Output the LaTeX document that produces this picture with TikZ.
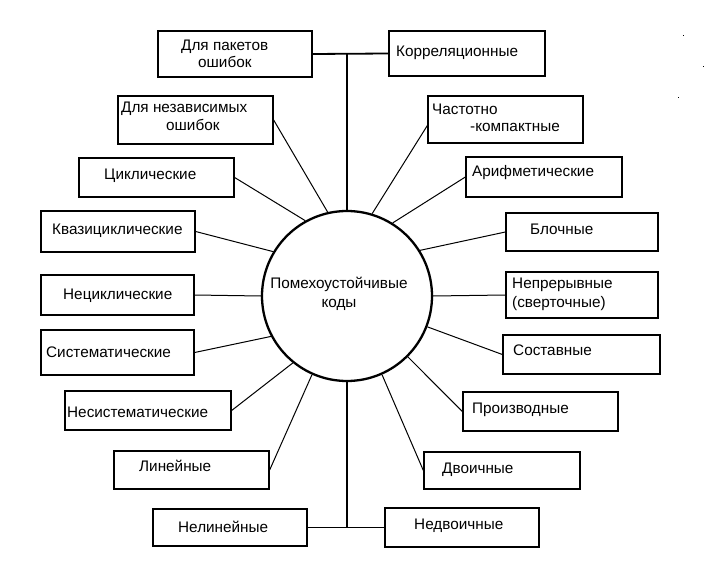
\documentclass[tikz,border=0pt]{standalone}
\usepackage{fontspec}
\setmainfont{Liberation Sans}
\begin{document}
\begin{tikzpicture}[x=1pt,y=-1pt,
  box/.style={draw,line width=1.3pt,rectangle,inner sep=0pt},
  lbl/.style={anchor=base west,inner sep=0pt,font=\fontsize{15.3}{17}\selectfont},
  conn/.style={line width=1pt},
  trunk/.style={line width=1.8pt},
  hub/.style={draw,circle,line width=2.3pt,minimum size=170pt,inner sep=0pt}]
\useasboundingbox (0,0) rectangle (707,564);
% hub
\node[hub] (c) at (347,296) {};
\node[anchor=center,inner sep=0pt,align=center,font=\fontsize{15.3}{18.5}\selectfont] (ct) at (339,294) {Помехоустойчивые\\коды};
% boxes
\node[box,minimum width=154pt,minimum height=46pt] (dp) at (235,54) {};
\node[box,minimum width=155pt,minimum height=48pt] (dn) at (195.5,120) {};
\node[box,minimum width=155pt,minimum height=39pt] (cy) at (156.5,177.5) {};
\node[box,minimum width=154pt,minimum height=41pt] (kv) at (118,231.5) {};
\node[box,minimum width=153pt,minimum height=40pt] (nc) at (117.5,295) {};
\node[box,minimum width=153pt,minimum height=45pt] (si) at (117.5,352.5) {};
\node[box,minimum width=166pt,minimum height=39pt] (ns) at (148,410.5) {};
\node[box,minimum width=155pt,minimum height=38pt] (li) at (191.5,470) {};
\node[box,minimum width=154pt,minimum height=37pt] (nl) at (230,527.5) {};
\node[box,minimum width=156pt,minimum height=45pt] (ko) at (467,53.5) {};
\node[box,minimum width=155pt,minimum height=47pt] (ch) at (505.5,119.5) {};
\node[box,minimum width=156pt,minimum height=40pt] (ar) at (544,177) {};
\node[box,minimum width=152pt,minimum height=38pt] (bl) at (582,232) {};
\node[box,minimum width=152pt,minimum height=46pt] (np) at (582,295) {};
\node[box,minimum width=157pt,minimum height=39pt] (so) at (581.5,354.5) {};
\node[box,minimum width=155pt,minimum height=39pt] (pr) at (540.5,411.5) {};
\node[box,minimum width=156pt,minimum height=37pt] (dv) at (502,470.5) {};
\node[box,minimum width=154pt,minimum height=39pt] (nd) at (462,527.5) {};
% labels
\node[lbl] (tdp1) at (181,51) {Для пакетов};
\node[lbl] (tdp2) at (198,68) {ошибок};
\node[lbl] (tdn1) at (121,113) {Для независимых};
\node[lbl] (tdn2) at (166,131) {ошибок};
\node[lbl] (tcy) at (104,180) {Циклические};
\node[lbl] (tkv) at (52,235) {Квазициклические};
\node[lbl] (tnc) at (63,299) {Нециклические};
\node[lbl] (tsi) at (46,357) {Систематические};
\node[lbl] (tns) at (67,417) {Несистематические};
\node[lbl] (tli) at (139,471) {Линейные};
\node[lbl] (tnl) at (178,532) {Нелинейные};
\node[lbl] (tko) at (396,57) {Корреляционные};
\node[lbl] (tch1) at (432,115) {Частотно};
\node[lbl] (tch2) at (470,132) {-компактные};
\node[lbl] (tar) at (472,177) {Арифметические};
\node[lbl] (tbl) at (530,235) {Блочные};
\node[lbl] (tnp1) at (512,288) {Непрерывные};
\node[lbl] (tnp2) at (512,307) {(сверточные)};
\node[lbl] (tso) at (513,355) {Составные};
\node[lbl] (tpr) at (472,413) {Производные};
\node[lbl] (tdv) at (442,473) {Двоичные};
\node[lbl] (tnd) at (414,529) {Недвоичные};
% trunk lines
\draw[trunk] (dp.east) -- (ko.west);
\draw[trunk] (c.north) -- (c.north |- dp.east);
\draw[trunk] (nl.east) -- (nd.west);
\draw[trunk] (c.south) -- (c.south |- nl.east);
% connectors
\draw[conn] (c.103.4) -- (dn.east);
\draw[conn] (c.119.8) -- (cy.east);
\draw[conn] (c.149.9) -- (kv.east);
\draw[conn] (c.west) -- (nc.east);
\draw[conn] (c.208.3) -- (si.east);
\draw[conn] (c.231.1) -- (ns.east);
\draw[conn] (c.246.7) -- (li.east);
\draw[conn] (c.73.4) -- ([yshift=-6pt]ch.west);
\draw[conn] (c.58.8) -- (ar.west);
\draw[conn] (c.32.3) -- (bl.west);
\draw[conn] (c.east) -- (np.west);
\draw[conn] (c.-21.6) -- (so.west);
\draw[conn] (c.-45) -- (pr.west);
\draw[conn] (c.-66.1) -- (dv.west);
% stray dots
\fill (683,35) rectangle ++(1,1);
\fill (703,66) rectangle ++(1,1);
\fill (678,97) rectangle ++(1,1);
\end{tikzpicture}
\end{document}
